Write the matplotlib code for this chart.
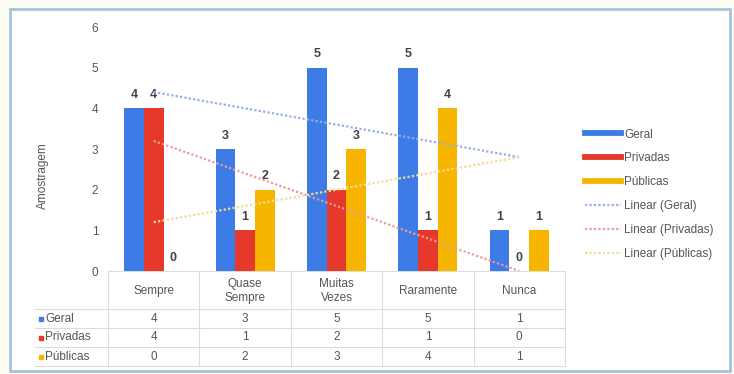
import numpy as np
import matplotlib

matplotlib.use("Agg")
import matplotlib.pyplot as plt
from matplotlib.lines import Line2D
from matplotlib.patches import Rectangle

plt.rcParams["font.family"] = ["Liberation Sans", "DejaVu Sans"]

categories = ["Sempre", "Quase\nSempre", "Muitas\nVezes", "Raramente", "Nunca"]
series_names = ["Geral", "Privadas", "Públicas"]
geral = [4, 3, 5, 5, 1]
privadas = [4, 1, 2, 1, 0]
publicas = [0, 2, 3, 4, 1]

colors = ["#3d7ce6", "#e6392b", "#f7b500"]
trend_colors = ["#97ade6", "#ec9a9a", "#f3dc94"]
text_col = "#555555"

W_PX, H_PX = 734, 374
fig = plt.figure(figsize=(W_PX / 100, H_PX / 100), dpi=100, facecolor="#fdfcf3")

# pixel-space overlay for the frame and the data table
over = fig.add_axes([0, 0, 1, 1], zorder=0)
over.set_xlim(0, W_PX)
over.set_ylim(H_PX, 0)
over.axis("off")
over.add_patch(Rectangle((10, 9), 720, 362, facecolor="white",
                         edgecolor="#a7c2da", linewidth=2))

# plot area in pixels
left, right, top, base = 108, 565, 27, 271
ax = fig.add_axes([left / W_PX, (H_PX - base) / H_PX,
                   (right - left) / W_PX, (base - top) / H_PX], zorder=1)
ax.set_facecolor("none")

data = [geral, privadas, publicas]
x = np.arange(len(categories))
bw = 0.215
for k, (vals, c) in enumerate(zip(data, colors)):
    xs = x + (k - 1) * bw
    ax.bar(xs, vals, width=bw, color=c, zorder=2)
    for xi, v in zip(xs, vals):
        ax.annotate(str(v), (xi, v), xytext=(0, 9.5), textcoords="offset points",
                    ha="center", va="center", fontsize=9, color="#444444",
                    fontweight="bold")

# linear trend lines for each series
for vals, c in zip(data, trend_colors):
    m, b = np.polyfit(x, vals, 1)
    ax.plot([x[0], x[-1]], [m * x[0] + b, m * x[-1] + b], color=c,
            linestyle=(0, (1, 1)), linewidth=1.6, zorder=3)

ax.set_xlim(-0.5, len(categories) - 0.5)
ax.set_ylim(0, 6)
ax.set_yticks(range(7))
ax.set_xticks([])
ax.tick_params(axis="y", length=0, pad=7, labelsize=8.5, labelcolor=text_col)
for s in ax.spines.values():
    s.set_visible(False)
ax.set_ylabel("Amostragem", fontsize=8.5, color=text_col)
ax.yaxis.set_label_coords(-(left - 49) / (right - left), 0.39)

# data table under the chart
grid_col = "#dcdcdc"
col_edges = np.linspace(left, right, len(categories) + 1)
col_mid = (col_edges[:-1] + col_edges[1:]) / 2
row_edges = [base, 309, 328, 347, 366]
lab_left = 35

over.plot([left, right], [base, base], color=grid_col, lw=0.8)
for y in row_edges[1:]:
    over.plot([lab_left, right], [y, y], color=grid_col, lw=0.8)
for xe in col_edges:
    over.plot([xe, xe], [base, row_edges[-1]], color=grid_col, lw=0.8)

for cx, name in zip(col_mid, categories):
    over.text(cx, (row_edges[0] + row_edges[1]) / 2 + 1, name, ha="center",
              va="center", fontsize=8.5, color=text_col, linespacing=1.3)

for r, (name, vals, c) in enumerate(zip(series_names, data, colors)):
    cy = (row_edges[r + 1] + row_edges[r + 2]) / 2
    over.plot(41, cy, marker="s", markersize=3.5, color=c, linestyle="none")
    over.text(45, cy, name, ha="left", va="center", fontsize=8.5, color=text_col)
    for cx, v in zip(col_mid, vals):
        over.text(cx, cy, str(v), ha="center", va="center", fontsize=8.5,
                  color=text_col)

handles = [Line2D([], [], color=c, lw=4.2) for c in colors]
handles += [Line2D([], [], color=c, lw=1.6, linestyle=(0, (1, 1)))
            for c in trend_colors]
labels = series_names + [f"Linear ({n})" for n in series_names]
fig.legend(handles, labels, loc="upper left",
           bbox_to_anchor=(574 / W_PX, 1 - 118 / H_PX), frameon=False,
           fontsize=8.5, handlelength=3.1, handletextpad=0.25,
           labelspacing=1.0, labelcolor=text_col)

fig.savefig("out.png", dpi=100, facecolor=fig.get_facecolor())
